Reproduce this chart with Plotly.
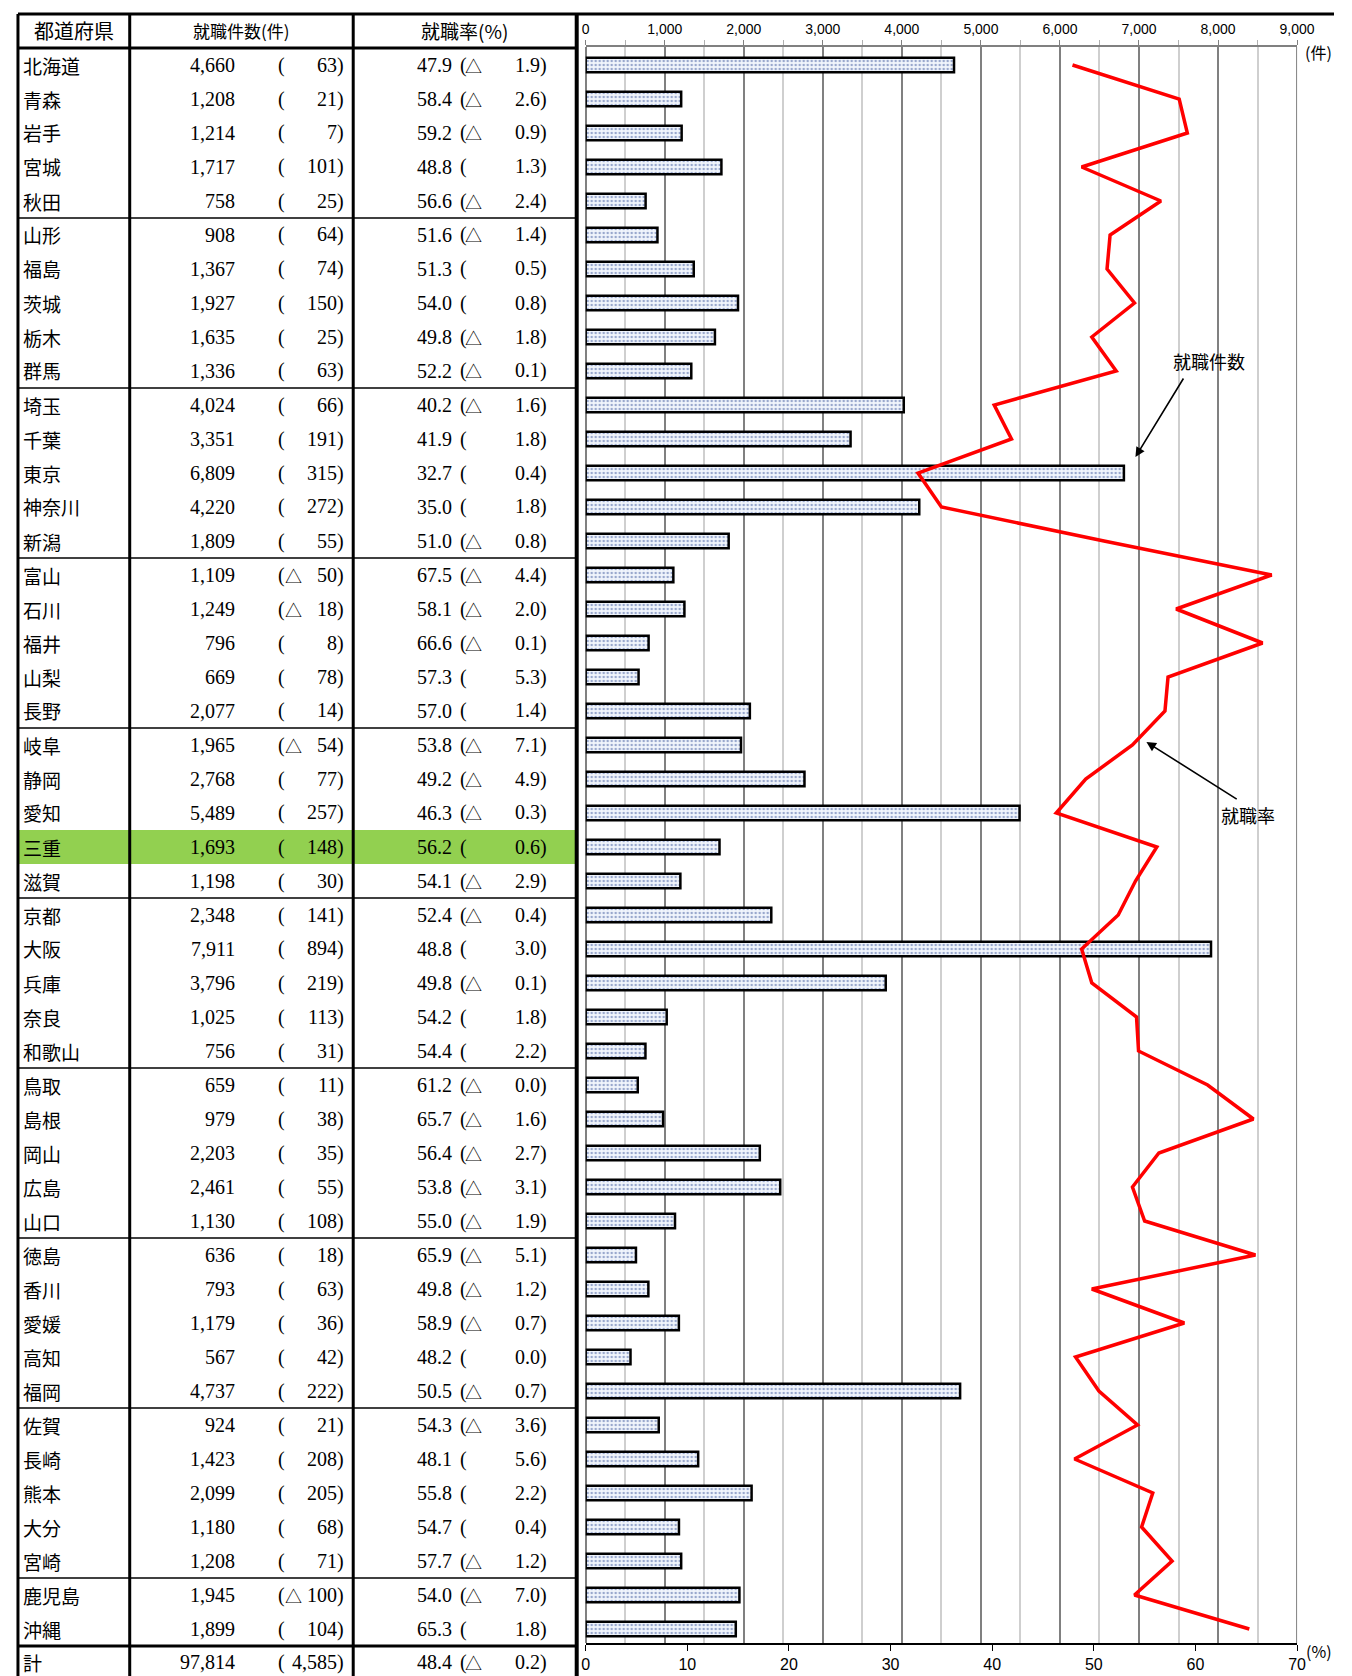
import plotly.graph_objects as go

# ---------------- data ----------------
prefectures = ["北海道","青森","岩手","宮城","秋田","山形","福島","茨城","栃木","群馬",
               "埼玉","千葉","東京","神奈川","新潟","富山","石川","福井","山梨","長野",
               "岐阜","静岡","愛知","三重","滋賀","京都","大阪","兵庫","奈良","和歌山",
               "鳥取","島根","岡山","広島","山口","徳島","香川","愛媛","高知","福岡",
               "佐賀","長崎","熊本","大分","宮崎","鹿児島","沖縄"]
job_counts = [4660,1208,1214,1717,758,908,1367,1927,1635,1336,
              4024,3351,6809,4220,1809,1109,1249,796,669,2077,
              1965,2768,5489,1693,1198,2348,7911,3796,1025,756,
              659,979,2203,2461,1130,636,793,1179,567,4737,
              924,1423,2099,1180,1208,1945,1899]
job_count_change = ["63","21","7","101","25","64","74","150","25","63",
                    "66","191","315","272","55","△50","△18","8","78","14",
                    "△54","77","257","148","30","141","894","219","113","31",
                    "11","38","35","55","108","18","63","36","42","222",
                    "21","208","205","68","71","△100","104"]
job_rates = [47.9,58.4,59.2,48.8,56.6,51.6,51.3,54.0,49.8,52.2,
             40.2,41.9,32.7,35.0,51.0,67.5,58.1,66.6,57.3,57.0,
             53.8,49.2,46.3,56.2,54.1,52.4,48.8,49.8,54.2,54.4,
             61.2,65.7,56.4,53.8,55.0,65.9,49.8,58.9,48.2,50.5,
             54.3,48.1,55.8,54.7,57.7,54.0,65.3]
job_rate_change = ["△1.9","△2.6","△0.9","1.3","△2.4","△1.4","0.5","0.8","△1.8","△0.1",
                   "△1.6","1.8","0.4","1.8","△0.8","△4.4","△2.0","△0.1","5.3","1.4",
                   "△7.1","△4.9","△0.3","0.6","△2.9","△0.4","3.0","△0.1","1.8","2.2",
                   "△0.0","△1.6","△2.7","△3.1","△1.9","△5.1","△1.2","△0.7","0.0","△0.7",
                   "△3.6","5.6","2.2","0.4","△1.2","△7.0","1.8"]
total_label = "計"
total_count = 97814
total_count_change = "4,585"
total_rate = 48.4
total_rate_change = "△0.2"
highlight_pref = "三重"
group_ends = [4, 9, 14, 19, 24, 29, 34, 39, 44]

count_ticks = [0,1000,2000,3000,4000,5000,6000,7000,8000,9000]
count_ticklabels = ["0","1,000","2,000","3,000","4,000","5,000","6,000","7,000","8,000","9,000"]
rate_ticks = [0,10,20,30,40,50,60,70]
rate_ticklabels = ["0","10","20","30","40","50","60","70"]

# ---------------- layout helpers (design pixel -> paper fraction) ----------------
W_EFF, H = 1333, 1676          # usable drawing width/height seen in the photo
def X(p): return min(p / W_EFF, 1.0)
def Y(p): return 1 - p / H
ROW0, RH = 65, 34
def rc(i): return ROW0 + RH * i
PX0, PX1 = 583, 1296          # plot area left/right
PY0, PY1 = 47, 1643           # plot area top/bottom
def rate_at(px): return (px - PX0) / (PX1 - PX0) * 70
def row_at(py): return (py - ROW0) / RH

JP = "Noto Sans CJK JP"
NUM = "Liberation Serif, Noto Sans CJK JP"
n = len(prefectures)
ypos = list(range(n))

fig = go.Figure()
fig.add_trace(go.Bar(
    x=job_counts, y=ypos, orientation="h", xaxis="x", yaxis="y", width=0.42,
    marker=dict(color="#f1f5fc", line=dict(color="black", width=2.5),
                pattern=dict(shape=".", fgcolor="#3f5a9e", bgcolor="#f1f5fc",
                             size=4, solidity=0.32)),
    name="就職件数", showlegend=False))
fig.add_trace(go.Scatter(
    x=job_rates, y=ypos, mode="lines", xaxis="x2", yaxis="y",
    line=dict(color="#ff0000", width=3.5), name="就職率", showlegend=False))

dom_x = [X(PX0), X(PX1)]
dom_y = [Y(PY1), Y(PY0)]

ann = []
def txt(x, y, s, anchor="left", font=NUM, size=20):
    ann.append(dict(x=X(x), y=Y(y), xref="paper", yref="paper", text=s, showarrow=False,
                    xanchor=anchor, yanchor="middle",
                    font=dict(family=font, size=size, color="black")))

# header
txt(70, 31, "都道府県", "center", JP, 20)
txt(238, 31, "就職件数(件)", "center", JP, 17)
txt(462, 31, "就職率(%)", "center", JP, 19)

def row_text(yc, name, cnt, cchg, rate, rchg):
    txt(17, yc, name, "left", JP, 19)
    txt(234, yc, cnt, "right")
    txt(273, yc, "(", "left")
    if cchg.startswith("△"):
        txt(290, yc, "△", "center", JP, 17)
        cchg = cchg[1:]
    txt(343, yc, cchg + ")", "right")
    txt(451, yc, rate, "right")
    txt(455, yc, "(", "left")
    if rchg.startswith("△"):
        txt(471, yc, "△", "center", JP, 17)
        rchg = rchg[1:]
    txt(546, yc, rchg + ")", "right")

for i in range(n):
    row_text(rc(i), prefectures[i], f"{job_counts[i]:,}", job_count_change[i],
             f"{job_rates[i]:.1f}", job_rate_change[i])
row_text(rc(n) - 1, total_label, f"{total_count:,}", total_count_change,
         f"{total_rate:.1f}", total_rate_change)

# unit labels
txt(1334, 52, "(件)", "right", JP, 16)
txt(1334, 1651, "(%)", "right", JP, 16)

# callouts (arrows in data coordinates so they scale with the plot)
txt(1208, 361, "就職件数", "center", JP, 18)
txt(1247, 815, "就職率", "center", JP, 18)
for (hx, hy, tx, ty) in [(1134, 457, 1183, 377), (1145, 742, 1237, 800)]:
    ann.append(dict(x=rate_at(hx), y=row_at(hy), xref="x2", yref="y",
                    ax=rate_at(tx), ay=row_at(ty), axref="x2", ayref="y",
                    text="", showarrow=True, arrowhead=2, arrowsize=1.2,
                    arrowwidth=1.6, arrowcolor="black"))

# shapes: table
shapes = []
def line(x0, y0, x1, y1, w, c="black"):
    shapes.append(dict(type="line", xref="paper", yref="paper", x0=X(x0), y0=Y(y0),
                       x1=X(x1), y1=Y(y1), line=dict(color=c, width=w)))

hi = prefectures.index(highlight_pref)
shapes.append(dict(type="rect", xref="paper", yref="paper", x0=X(14), x1=X(574),
                   y0=Y(rc(hi) - RH / 2), y1=Y(rc(hi) + RH / 2),
                   fillcolor="#92d050", line=dict(width=0), layer="below"))
line(14, 14, 1352, 14, 3)         # top border
line(14, 48, 574, 48, 3)          # header bottom
for g in group_ends:
    yb = rc(g) + RH / 2
    line(14, yb, 574, yb, 1.3)
line(14, rc(n - 1) + RH / 2, 574, rc(n - 1) + RH / 2, 3)
line(14, 14, 14, H, 3)
line(126, 14, 126, H, 3)
line(350, 14, 350, H, 3)
line(574, 14, 574, H, 4)
# right edge of plot grid
shapes.append(dict(type="line", xref="x", yref="paper", x0=9000, x1=9000, y0=dom_y[0], y1=dom_y[1],
                   line=dict(color="#808080", width=2), layer="below"))

fig.update_layout(
    autosize=True, margin=dict(l=0, r=0, t=0, b=0, pad=0),
    paper_bgcolor="white", plot_bgcolor="white",
    bargap=0.58,
    xaxis=dict(domain=dom_x, range=[0, 9000], side="top", anchor="y",
               tickvals=count_ticks, ticktext=count_ticklabels,
               tickfont=dict(family="Liberation Sans Narrow, Liberation Sans", size=14, color="black"),
               ticks="outside", ticklen=5, tickcolor="#808080",
               showgrid=True, gridcolor="#808080", gridwidth=2,
               minor=dict(dtick=500, tick0=0, showgrid=True, gridcolor="#cfcfcf", gridwidth=1.5,
                          ticks="outside", ticklen=5, tickcolor="#b0b0b0"),
               zeroline=True, zerolinecolor="#808080", zerolinewidth=2,
               showline=True, linecolor="#808080", linewidth=2, fixedrange=True),
    xaxis2=dict(domain=dom_x, range=[0, 70], side="bottom", overlaying="x", anchor="y",
                tickvals=rate_ticks, ticktext=rate_ticklabels,
                tickfont=dict(family="Liberation Sans Narrow, Liberation Sans", size=16, color="black"),
                ticks="outside", ticklen=6, tickcolor="black",
                showgrid=False, zeroline=False,
                showline=True, linecolor="black", linewidth=1.5),
    yaxis=dict(domain=dom_y, range=[n - 1 + (PY1 - rc(n - 1)) / RH, -(rc(0) - PY0) / RH],
               visible=False, showgrid=False, zeroline=False),
    annotations=ann, shapes=shapes,
)

fig.write_html(
    "out.html",
    config={"displayModeBar": False, "responsive": True},
    default_width="100vw", default_height="100vh",
    post_script=("document.body.style.margin='0px';document.body.style.overflow='hidden';"
                 "var gd=document.getElementById('{plot_id}');"
                 "gd.style.position='absolute';gd.style.left='0px';gd.style.top='0px';"
                 "Plotly.Plots.resize(gd);"),
)
